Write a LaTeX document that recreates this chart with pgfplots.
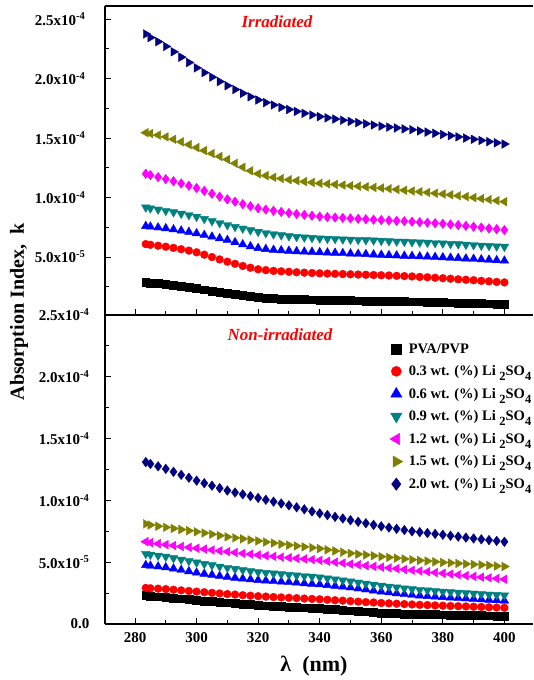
\documentclass[border=0pt]{standalone}
\usepackage{fontspec}
\setmainfont{Liberation Serif}
\usepackage{pgfplots}
\usepackage{pgfplotstable}
\pgfplotsset{compat=1.18}
\definecolor{cteal}{RGB}{0,128,128}
\definecolor{colive}{RGB}{128,128,0}
\definecolor{cnavy}{RGB}{0,0,128}
\definecolor{cmag}{RGB}{255,0,255}
\definecolor{cblue}{RGB}{0,0,255}
\definecolor{cred}{RGB}{255,0,0}
\newcommand\sub[1]{\raisebox{-5pt}{\fontsize{12.5}{12.5}\selectfont #1}}

% absorption index k, values in units of 1e-5
% a: PVA/PVP, b: 0.3, c: 0.6, d: 0.9, e: 1.2, f: 1.5, g: 2.0 wt.% Li2SO4
\pgfplotstableread{
x a b c d e f g
283.5 2.87 6.09 7.60 9.18 12.00 15.45 23.75
285 2.83 6.03 7.55 9.10 11.88 15.38 23.45
287.5 2.77 5.95 7.48 9.00 11.72 15.25 23.10
290 2.71 5.87 7.41 8.89 11.55 15.10 22.70
292.5 2.63 5.77 7.32 8.77 11.37 14.90 22.25
295 2.55 5.66 7.22 8.65 11.18 14.68 21.80
297.5 2.46 5.54 7.11 8.53 10.99 14.45 21.35
300 2.37 5.40 6.99 8.39 10.80 14.20 20.90
302.5 2.26 5.20 6.85 8.21 10.56 13.95 20.50
305 2.16 5.00 6.71 8.03 10.32 13.70 20.12
307.5 2.05 4.80 6.57 7.86 10.08 13.45 19.75
310 1.95 4.61 6.43 7.69 9.85 13.20 19.40
312.5 1.86 4.43 6.24 7.54 9.65 12.88 19.08
315 1.77 4.25 6.06 7.40 9.45 12.55 18.76
317.5 1.68 4.10 5.90 7.26 9.27 12.25 18.47
320 1.61 3.97 5.75 7.13 9.10 12.00 18.20
322.5 1.56 3.90 5.67 7.02 8.99 11.84 17.98
325 1.52 3.84 5.60 6.92 8.89 11.70 17.78
327.5 1.49 3.80 5.56 6.84 8.79 11.60 17.58
330 1.47 3.76 5.52 6.76 8.70 11.50 17.40
332.5 1.45 3.72 5.48 6.70 8.62 11.42 17.24
335 1.43 3.69 5.45 6.65 8.54 11.34 17.08
337.5 1.41 3.66 5.43 6.61 8.47 11.27 16.94
340 1.39 3.63 5.40 6.57 8.40 11.20 16.80
342.5 1.38 3.61 5.37 6.54 8.36 11.15 16.70
345 1.37 3.59 5.35 6.52 8.32 11.10 16.60
347.5 1.35 3.57 5.32 6.49 8.29 11.05 16.50
350 1.34 3.55 5.29 6.47 8.25 11.00 16.40
352.5 1.33 3.53 5.26 6.45 8.21 10.95 16.30
355 1.32 3.51 5.24 6.42 8.18 10.90 16.20
357.5 1.31 3.49 5.21 6.40 8.14 10.85 16.10
360 1.30 3.47 5.18 6.37 8.11 10.80 16.00
362.5 1.29 3.45 5.15 6.34 8.08 10.74 15.92
365 1.28 3.42 5.13 6.31 8.04 10.68 15.85
367.5 1.26 3.40 5.10 6.29 8.01 10.61 15.77
370 1.25 3.37 5.08 6.26 7.97 10.55 15.70
372.5 1.24 3.33 5.05 6.23 7.93 10.49 15.60
375 1.22 3.30 5.03 6.21 7.89 10.43 15.50
377.5 1.21 3.26 5.00 6.18 7.85 10.36 15.40
380 1.19 3.22 4.97 6.15 7.80 10.30 15.30
382.5 1.17 3.18 4.94 6.11 7.74 10.23 15.20
385 1.15 3.13 4.91 6.08 7.68 10.15 15.10
387.5 1.14 3.09 4.87 6.04 7.62 10.08 15.00
390 1.12 3.05 4.84 6.01 7.55 10.00 14.90
392.5 1.10 3.00 4.80 5.97 7.48 9.91 14.80
395 1.08 2.96 4.77 5.94 7.41 9.83 14.70
397.5 1.07 2.91 4.73 5.90 7.34 9.74 14.60
400 1.05 2.87 4.69 5.87 7.27 9.65 14.50
}\irr

\pgfplotstableread{
x a b c d e f g
283.5 2.30 2.92 4.76 5.68 6.66 8.10 13.10
285 2.26 2.89 4.71 5.61 6.58 8.01 12.95
287.5 2.21 2.86 4.65 5.53 6.50 7.91 12.76
290 2.15 2.82 4.58 5.45 6.42 7.82 12.55
292.5 2.09 2.77 4.48 5.33 6.35 7.73 12.31
295 2.04 2.72 4.37 5.21 6.27 7.64 12.07
297.5 1.98 2.67 4.26 5.10 6.20 7.55 11.83
300 1.92 2.62 4.15 4.98 6.13 7.46 11.60
302.5 1.87 2.57 4.06 4.87 6.06 7.36 11.39
305 1.82 2.52 3.97 4.76 5.99 7.26 11.19
307.5 1.77 2.47 3.88 4.65 5.92 7.15 10.99
310 1.72 2.42 3.80 4.55 5.85 7.05 10.80
312.5 1.67 2.38 3.73 4.46 5.78 6.97 10.64
315 1.62 2.33 3.67 4.37 5.71 6.89 10.49
317.5 1.57 2.29 3.61 4.28 5.65 6.80 10.34
320 1.52 2.25 3.55 4.20 5.58 6.72 10.20
322.5 1.48 2.22 3.51 4.14 5.52 6.63 10.05
325 1.45 2.18 3.46 4.09 5.47 6.55 9.90
327.5 1.41 2.15 3.42 4.03 5.41 6.46 9.75
330 1.38 2.12 3.38 3.98 5.36 6.38 9.60
332.5 1.35 2.09 3.34 3.93 5.31 6.31 9.44
335 1.32 2.06 3.29 3.88 5.26 6.24 9.28
337.5 1.28 2.03 3.25 3.83 5.21 6.17 9.11
340 1.25 2.00 3.20 3.78 5.15 6.10 8.95
342.5 1.21 1.96 3.14 3.70 5.08 6.00 8.81
345 1.17 1.92 3.08 3.62 5.00 5.91 8.67
347.5 1.12 1.89 3.02 3.53 4.93 5.81 8.54
350 1.08 1.85 2.95 3.45 4.85 5.72 8.40
352.5 1.03 1.81 2.87 3.36 4.79 5.65 8.27
355 0.99 1.77 2.79 3.27 4.72 5.59 8.15
357.5 0.94 1.74 2.70 3.19 4.66 5.52 8.02
360 0.90 1.70 2.62 3.10 4.60 5.45 7.90
362.5 0.87 1.67 2.55 3.03 4.54 5.39 7.80
365 0.85 1.64 2.48 2.96 4.48 5.33 7.70
367.5 0.82 1.61 2.41 2.89 4.41 5.26 7.60
370 0.80 1.58 2.35 2.82 4.35 5.20 7.50
372.5 0.79 1.55 2.30 2.77 4.29 5.14 7.43
375 0.78 1.53 2.25 2.72 4.23 5.09 7.36
377.5 0.77 1.50 2.21 2.67 4.16 5.03 7.29
380 0.76 1.48 2.17 2.62 4.10 4.98 7.22
382.5 0.74 1.46 2.13 2.58 4.04 4.94 7.14
385 0.73 1.44 2.10 2.54 3.98 4.90 7.07
387.5 0.71 1.42 2.06 2.51 3.91 4.86 6.99
390 0.70 1.40 2.03 2.47 3.85 4.82 6.92
392.5 0.69 1.38 1.99 2.43 3.79 4.78 6.85
395 0.67 1.35 1.95 2.39 3.74 4.74 6.79
397.5 0.66 1.33 1.92 2.36 3.68 4.69 6.72
400 0.65 1.31 1.88 2.32 3.62 4.65 6.65
}\non

\pgfplotsset{
  panel/.style={
    scale only axis, width=428pt, height=309pt,
    xmin=270.25, xmax=409.3,
    axis y line*=left,
    axis line style={-, line width=1.1pt},
    tick style={line width=1pt, black},
    major tick length=6pt, minor tick length=4pt,
    tick align=inside, tick pos=left,
    xtick={280,300,...,400}, minor x tick num=1,
    scaled y ticks=false, scaled x ticks=false,
    /pgf/number format/assume math mode=true,
    /pgf/number format/1000 sep={},
    ticklabel style={font=\fontsize{15}{15}\selectfont\bfseries},
    clip=false,
  },
  mk/.style={only marks, mark size=3.9pt, color=#1, mark options={draw=#1, fill=#1}},
}

\begin{document}
\begin{tikzpicture}
\useasboundingbox (0,0) rectangle (533pt,680pt);

% bottom panel: non-irradiated
\begin{axis}[panel, at={(105pt,56pt)}, anchor=south west,
  ymin=0, ymax=25e-5,
  ytick={0,5e-5,1e-4,1.5e-4,2e-4,2.5e-4},
  yticklabels={0.0, 5.0x10\textsuperscript{-5}, 1.0x10\textsuperscript{-4}, 1.5x10\textsuperscript{-4}, 2.0x10\textsuperscript{-4}, 2.5x10\textsuperscript{-4}},
  minor ytick={2.5e-5,7.5e-5,1.25e-4,1.75e-4,2.25e-4},
  yticklabel style={xshift=-12pt},
  xticklabel style={yshift=-5pt},
  legend style={draw=none, fill=none, at={(0.665,0.915)}, anchor=north west,
    font=\fontsize{14.5}{14.5}\selectfont\bfseries, row sep=7pt, column sep=4pt, inner sep=0pt},
  legend cell align=left,
  legend image post style={scale=1.3},
]
\addplot[mk=black, mark=square*] table[x=x, y expr=\thisrow{a}*1e-5]{\non};
\addplot[mk=cred, mark=*] table[x=x, y expr=\thisrow{b}*1e-5]{\non};
\addplot[mk=cblue, mark=triangle*, mark size=5pt] table[x=x, y expr=\thisrow{c}*1e-5]{\non};
\addplot[mk=cteal, mark=triangle*, mark size=5pt, mark options={rotate=180}] table[x=x, y expr=\thisrow{d}*1e-5]{\non};
\addplot[mk=cmag, mark=triangle*, mark size=5pt, mark options={rotate=90}] table[x=x, y expr=\thisrow{e}*1e-5]{\non};
\addplot[mk=colive, mark=triangle*, mark size=5pt, mark options={rotate=-90}] table[x=x, y expr=\thisrow{f}*1e-5]{\non};
\addplot[mk=cnavy, mark=diamond*, mark size=4.8pt] table[x=x, y expr=\thisrow{g}*1e-5]{\non};
\legend{PVA/PVP,
  0.3 wt. (\%) Li \sub{2}SO\sub{4},
  0.6 wt. (\%) Li \sub{2}SO\sub{4},
  0.9 wt. (\%) Li \sub{2}SO\sub{4},
  1.2 wt. (\%) Li \sub{2}SO\sub{4},
  1.5 wt. (\%) Li \sub{2}SO\sub{4},
  2.0 wt. (\%) Li \sub{2}SO\sub{4}}
\end{axis}

% top panel: irradiated
\begin{axis}[panel, at={(105pt,365pt)}, anchor=south west,
  ymin=0.13e-5, ymax=26.1e-5,
  ytick={5e-5,1e-4,1.5e-4,2e-4,2.5e-4},
  yticklabels={5.0x10\textsuperscript{-5}, 1.0x10\textsuperscript{-4}, 1.5x10\textsuperscript{-4}, 2.0x10\textsuperscript{-4}, 2.5x10\textsuperscript{-4}},
  minor ytick={2.5e-5,7.5e-5,1.25e-4,1.75e-4,2.25e-4},
  yticklabel style={xshift=-16pt},
  xticklabels={},
]
\addplot[mk=black, mark=square*] table[x=x, y expr=\thisrow{a}*1e-5]{\irr};
\addplot[mk=cred, mark=*] table[x=x, y expr=\thisrow{b}*1e-5]{\irr};
\addplot[mk=cblue, mark=triangle*, mark size=5pt] table[x=x, y expr=\thisrow{c}*1e-5]{\irr};
\addplot[mk=cteal, mark=triangle*, mark size=5pt, mark options={rotate=180}] table[x=x, y expr=\thisrow{d}*1e-5]{\irr};
\addplot[mk=cmag, mark=diamond*, mark size=4.8pt] table[x=x, y expr=\thisrow{e}*1e-5]{\irr};
\addplot[mk=colive, mark=triangle*, mark size=5pt, mark options={rotate=90}] table[x=x, y expr=\thisrow{f}*1e-5]{\irr};
\addplot[mk=cnavy, mark=triangle*, mark size=5pt, mark options={rotate=-90}] table[x=x, y expr=\thisrow{g}*1e-5]{\irr};
\end{axis}

\node[rotate=90, font=\fontsize{20}{20}\selectfont\bfseries] at (19pt,368pt) {Absorption Index, ~k};
\node[font=\fontsize{22}{22}\selectfont\bfseries] at (314pt,14pt) {λ~~(nm)};
\node[text=red, font=\fontsize{17}{17}\selectfont\bfseries\itshape] at (277pt,658pt) {Irradiated};
\node[text=red, font=\fontsize{17}{17}\selectfont\bfseries\itshape] at (280pt,345pt) {Non-irradiated};
\end{tikzpicture}
\end{document}
